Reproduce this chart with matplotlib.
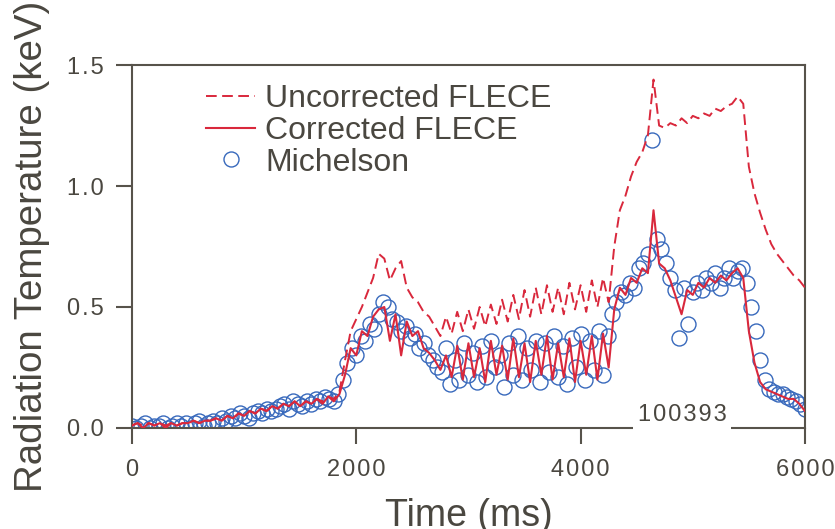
import matplotlib.pyplot as plt
import numpy as np

plt.rcParams['font.family'] = ['Liberation Sans', 'DejaVu Sans']

# time grids (ms)
flece_t = np.arange(0, 6001, 50)
mich_t = np.arange(0, 6001, 40)

# Corrected FLECE (keV), 50 ms steps
corrected = [
    0.01, 0.02, 0.00, 0.02, 0.01, 0.02, 0.00, 0.02, 0.01, 0.02,
    0.02, 0.03, 0.02, 0.03, 0.03, 0.04, 0.03, 0.05, 0.04, 0.06,
    0.05, 0.07, 0.06, 0.08, 0.07, 0.09, 0.08, 0.10, 0.09, 0.11,
    0.09, 0.11, 0.10, 0.12, 0.10, 0.13, 0.11, 0.14, 0.22, 0.33,
    0.30, 0.40, 0.38, 0.46, 0.49, 0.50, 0.36, 0.47, 0.30, 0.44,
    0.38, 0.40, 0.33, 0.31, 0.28, 0.24, 0.30, 0.21, 0.34, 0.20,
    0.35, 0.21, 0.33, 0.19, 0.36, 0.22, 0.34, 0.20, 0.37, 0.21,
    0.35, 0.19, 0.36, 0.22, 0.38, 0.20, 0.35, 0.21, 0.37, 0.19,
    0.36, 0.22, 0.38, 0.20, 0.39, 0.25, 0.49, 0.58, 0.55, 0.62,
    0.60, 0.66, 0.64, 0.90, 0.68, 0.66, 0.61, 0.54, 0.47, 0.57,
    0.55, 0.60, 0.58, 0.62, 0.60, 0.63, 0.61, 0.64, 0.66, 0.62,
    0.40, 0.27, 0.19, 0.16, 0.15, 0.14, 0.13, 0.12, 0.12, 0.10,
    0.07,
]

# Uncorrected FLECE (keV), 50 ms steps
uncorrected = [
    0.01, 0.02, 0.01, 0.02, 0.01, 0.02, 0.01, 0.02, 0.01, 0.02,
    0.02, 0.03, 0.02, 0.03, 0.03, 0.04, 0.03, 0.05, 0.04, 0.06,
    0.05, 0.07, 0.06, 0.08, 0.07, 0.09, 0.08, 0.10, 0.09, 0.11,
    0.09, 0.11, 0.10, 0.12, 0.11, 0.13, 0.12, 0.15, 0.28, 0.40,
    0.45, 0.50, 0.56, 0.62, 0.72, 0.70, 0.61, 0.66, 0.69, 0.58,
    0.54, 0.52, 0.48, 0.46, 0.42, 0.38, 0.46, 0.39, 0.48, 0.40,
    0.49, 0.41, 0.50, 0.42, 0.51, 0.43, 0.53, 0.44, 0.55, 0.45,
    0.57, 0.46, 0.58, 0.47, 0.59, 0.48, 0.58, 0.47, 0.60, 0.49,
    0.59, 0.48, 0.61, 0.50, 0.62, 0.52, 0.75, 0.90, 0.96, 1.04,
    1.10, 1.14, 1.21, 1.44, 1.25, 1.24, 1.26, 1.25, 1.28, 1.26,
    1.29, 1.28, 1.30, 1.29, 1.32, 1.31, 1.33, 1.34, 1.37, 1.34,
    1.08, 0.97, 0.89, 0.82, 0.76, 0.72, 0.69, 0.66, 0.63, 0.61,
    0.58,
]

# Michelson (keV), 40 ms steps
michelson = [
    0.01, 0.00, 0.01, 0.02, 0.00, 0.01, 0.01, 0.02, 0.00, 0.01,
    0.02, 0.01, 0.02, 0.00, 0.02, 0.03, 0.01, 0.02, 0.03, 0.02,
    0.04, 0.03, 0.05, 0.04, 0.06, 0.05, 0.04, 0.06, 0.07, 0.06,
    0.08, 0.07, 0.08, 0.09, 0.10, 0.08, 0.11, 0.10, 0.09, 0.11,
    0.10, 0.12, 0.11, 0.13, 0.12, 0.11, 0.14, 0.20, 0.27, 0.33,
    0.30, 0.38, 0.36, 0.43, 0.41, 0.47, 0.52, 0.50, 0.45, 0.44,
    0.40, 0.42, 0.37, 0.39, 0.33, 0.35, 0.30, 0.28, 0.25, 0.23,
    0.33, 0.18, 0.28, 0.20, 0.35, 0.22, 0.31, 0.19, 0.34, 0.21,
    0.36, 0.25, 0.30, 0.17, 0.35, 0.22, 0.38, 0.20, 0.33, 0.24,
    0.36, 0.19, 0.35, 0.23, 0.38, 0.21, 0.34, 0.18, 0.37, 0.25,
    0.39, 0.20, 0.36, 0.24, 0.40, 0.22, 0.38, 0.47, 0.52, 0.56,
    0.55, 0.60, 0.58, 0.66, 0.68, 0.72, 1.19, 0.78, 0.74, 0.68,
    0.62, 0.57, 0.37, 0.58, 0.43, 0.56, 0.60, 0.57, 0.62, 0.60,
    0.64, 0.58, 0.62, 0.66, 0.62, 0.65, 0.66, 0.60, 0.50, 0.40,
    0.28, 0.20, 0.16, 0.15, 0.14, 0.14, 0.13, 0.12, 0.11, 0.10,
    0.08,
]

xticks = [0, 2000, 4000, 6000]
yticks = [0.0, 0.5, 1.0, 1.5]

axcol = '#57534b'
txtcol = '#4a4740'
red = '#d9283c'
blue = '#3869bc'

def spaced(s):
    # mimic the wide letter spacing of the original tick labels
    return '\u200a'.join(s)

fig = plt.figure(figsize=(8.35, 5.29), dpi=100)
ax = fig.add_axes([0.158, 0.191, 0.806, 0.686])

ax.plot(flece_t, uncorrected, color=red, lw=1.4, dashes=(5.5, 2.8),
        label='Uncorrected FLECE', zorder=3)
ax.plot(mich_t, michelson, 'o', mfc='none', mec=blue, mew=1.0, ms=10.8,
        label='Michelson', zorder=2)
ax.plot(flece_t, corrected, color=red, lw=1.5, label='Corrected FLECE', zorder=4)

ax.set_xlim(0, 6000)
ax.set_ylim(0, 1.5)
ax.set_xticks(xticks)
ax.set_xticklabels([spaced(str(v)) for v in xticks])
ax.set_yticks(yticks)
ax.set_yticklabels([spaced(f'{v:.1f}') for v in yticks])

for s in ax.spines.values():
    s.set_color(axcol)
    s.set_linewidth(1.5)
ax.tick_params(colors=axcol, labelcolor=txtcol, length=11.5, width=1.5,
               labelsize=17, direction='out')
ax.tick_params(axis='x', pad=11)
ax.tick_params(axis='y', pad=9)

ax.set_xlabel('Time (ms)', fontsize=27, color=txtcol, labelpad=12)
ax.set_ylabel('Radiation Temperature (keV)', fontsize=27.7, color=txtcol, labelpad=12)

ax.text(4903, 0.054, spaced('100393'), fontsize=17, color=txtcol, ha='center',
        va='center', zorder=6,
        bbox=dict(facecolor='white', edgecolor='none', pad=3))

h, l = ax.get_legend_handles_labels()
order = [0, 2, 1]
leg = ax.legend([h[i] for i in order], [l[i] for i in order],
                loc='upper left', bbox_to_anchor=(0.091, 0.982), frameon=False,
                fontsize=23, handlelength=1.55, handletextpad=0.3,
                labelspacing=0.05, borderaxespad=0)
for t in leg.get_texts():
    t.set_color(txtcol)

fig.savefig('out.png', dpi=100)
